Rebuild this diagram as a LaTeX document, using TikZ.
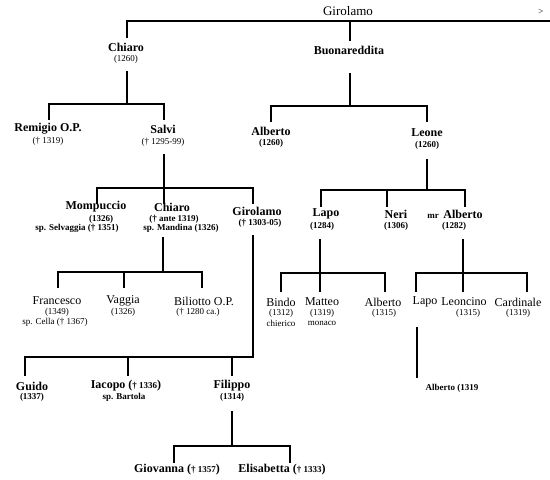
\documentclass[tikz,border=0pt]{standalone}
\usepackage{fontspec}
\setmainfont{Liberation Serif}
\begin{document}
\begin{tikzpicture}[x=1pt,y=-1pt,
  nb/.style={inner sep=0pt, font=\fontsize{12}{13}\selectfont\bfseries},
  nr/.style={inner sep=0pt, font=\fontsize{12}{13}\selectfont},
  sd/.style={inner sep=0pt, font=\fontsize{9}{10}\selectfont},
  sdb/.style={inner sep=0pt, font=\fontsize{9}{10}\selectfont\bfseries},
  ln/.style={line width=1.3pt, line cap=rect, line join=miter}]
\useasboundingbox (0,0) rectangle (550,480);

% ---- texts ----
\node[nr, font=\fontsize{13}{14}\selectfont] (gtop) at (348,11) {Girolamo};
\node[sd] (arr) at (541,12) {>};
\node[nb] (chiaroA) at (126,47) {Chiaro};
\node[sd] (chiaroAd) at (126,59) {(1260)};
\node[nb] (buon) at (349,50) {Buonareddita};

\node[nb] (remigio) at (48,129) {Remigio O.P.};
\node[sd] (remigiod) at (48,141) {(† 1319)};
\node[nb] (salvi) at (163,129) {Salvi};
\node[sd] (salvid) at (163,142) {(† 1295-99)};
\node[nb] (albertoA) at (271,131) {Alberto};
\node[sdb] (albertoAd) at (271,143) {(1260)};
\node[nb] (leone) at (427,133) {Leone};
\node[sdb] (leoned) at (427,145) {(1260)};

\node[nb] (mompuccio) at (96,207) {Mompuccio};
\node[sdb] (mompucciod) at (101,219) {(1326)};
\node[sdb] (mompuccioe) at (77,228) {sp. Selvaggia († 1351)};
\node[nb] (chiaroB) at (172,207) {Chiaro};
\node[sdb] (chiaroBd) at (174,219) {(† ante 1319)};
\node[sdb] (chiaroBe) at (181,228) {sp. Mandina (1326)};
\node[nb] (girolamoB) at (257,211) {Girolamo};
\node[sdb] (girolamoBd) at (260,223) {(† 1303-05)};
\node[nb] (lapoA) at (326,214) {Lapo};
\node[sdb] (lapoAd) at (322,226) {(1284)};
\node[nb] (neri) at (396,214) {Neri};
\node[sdb] (nerid) at (396,226) {(1306)};
\node[sdb] (mr) at (433,216) {mr};
\node[nb] (albertoB) at (463,214) {Alberto};
\node[sdb] (albertoBd) at (454,226) {(1282)};

\node[nr] (francesco) at (57,301) {Francesco};
\node[sd] (francescod) at (57,312) {(1349)};
\node[sd] (francescoe) at (55,322) {sp. Cella († 1367)};
\node[nr] (vaggia) at (123,301) {Vaggia};
\node[sd] (vaggiad) at (123,312) {(1326)};
\node[nr] (biliotto) at (204,301) {Biliotto O.P.};
\node[sd] (biliottod) at (198,312) {(† 1280 ca.)};
\node[nr] (bindo) at (281,302) {Bindo};
\node[sd] (bindod) at (281,313) {(1312)};
\node[sd] (bindoe) at (281,323) {chierico};
\node[nr] (matteo) at (322,302) {Matteo};
\node[sd] (matteod) at (322,313) {(1319)};
\node[sd] (matteoe) at (322,323) {monaco};
\node[nr] (albertoC) at (383,302) {Alberto};
\node[sd] (albertoCd) at (384,313) {(1315)};
\node[nr] (lapoB) at (425,302) {Lapo};
\node[nr] (leoncino) at (464,302) {Leoncino};
\node[sd] (leoncinod) at (468,313) {(1315)};
\node[nr] (cardinale) at (518,302) {Cardinale};
\node[sd] (cardinaled) at (518,313) {(1319)};

\node[nb] (guido) at (32,386) {Guido};
\node[sdb] (guidod) at (32,397) {(1337)};
\node[nb] (iacopo) at (126,386) {Iacopo ({\fontsize{9}{10}\selectfont † 1336})};
\node[sdb] (iacopod) at (124,397) {sp. Bartola};
\node[nb] (filippo) at (232,386) {Filippo};
\node[sdb] (filippod) at (232,397) {(1314)};
\node[sdb] (albertoD) at (452,388) {Alberto (1319};
\node[nb] (giovanna) at (177,470) {Giovanna ({\fontsize{9}{10}\selectfont † 1357})};
\node[nb] (elisabetta) at (282,470) {Elisabetta ({\fontsize{9}{10}\selectfont † 1333})};

% ---- connectors ----
% Girolamo
\coordinate (g1) at (127,37); \coordinate (g2) at (127,21);
\coordinate (g3) at (550,21); \coordinate (g4) at (350,21); \coordinate (g5) at (350,40);
\draw[ln] (g1) -- (g2) -- (g3); \draw[ln] (g4) -- (g5);
% Chiaro (1260)
\coordinate (c0) at (127,72); \coordinate (c1) at (127,104);
\coordinate (c2) at (49,119); \coordinate (c3) at (49,104);
\coordinate (c4) at (164,104); \coordinate (c5) at (164,119);
\draw[ln] (c0) -- (c1); \draw[ln] (c2) -- (c3) -- (c4) -- (c5);
% Buonareddita
\coordinate (b0) at (350,74); \coordinate (b1) at (350,106);
\coordinate (b2) at (271,121); \coordinate (b3) at (271,106);
\coordinate (b4) at (427,106); \coordinate (b5) at (427,121);
\draw[ln] (b0) -- (b1); \draw[ln] (b2) -- (b3) -- (b4) -- (b5);
% Salvi
\coordinate (s0) at (164,155); \coordinate (s1) at (164,188);
\coordinate (s2) at (97,203); \coordinate (s3) at (97,188);
\coordinate (s4) at (253,188); \coordinate (s5) at (253,203);
\coordinate (s6) at (164,203);
\draw[ln] (s0) -- (s6); \draw[ln] (s2) -- (s3) -- (s4) -- (s5);
% Leone
\coordinate (l0) at (427,160); \coordinate (l1) at (427,190);
\coordinate (l2) at (321,206); \coordinate (l3) at (321,190);
\coordinate (l4) at (465,190); \coordinate (l5) at (465,206);
\coordinate (l6) at (387,190); \coordinate (l7) at (387,206);
\draw[ln] (l0) -- (l1); \draw[ln] (l2) -- (l3) -- (l4) -- (l5); \draw[ln] (l6) -- (l7);
% Chiaro (ante 1319)
\coordinate (h0) at (163,238); \coordinate (h1) at (163,272);
\coordinate (h2) at (58,287); \coordinate (h3) at (58,272);
\coordinate (h4) at (202,272); \coordinate (h5) at (202,287);
\coordinate (h6) at (124,272); \coordinate (h7) at (124,287);
\draw[ln] (h0) -- (h1); \draw[ln] (h2) -- (h3) -- (h4) -- (h5); \draw[ln] (h6) -- (h7);
% Lapo (1284)
\coordinate (p0) at (320,240); \coordinate (p1) at (320,273);
\coordinate (p2) at (281,291); \coordinate (p3) at (281,273);
\coordinate (p4) at (385,273); \coordinate (p5) at (385,291);
\coordinate (p6) at (320,291);
\draw[ln] (p0) -- (p6); \draw[ln] (p2) -- (p3) -- (p4) -- (p5);
% mr Alberto
\coordinate (a0) at (463,240); \coordinate (a1) at (463,273);
\coordinate (a2) at (416,291); \coordinate (a3) at (416,273);
\coordinate (a4) at (527,273); \coordinate (a5) at (527,291);
\coordinate (a6) at (463,291);
\draw[ln] (a0) -- (a6); \draw[ln] (a2) -- (a3) -- (a4) -- (a5);
% Lapo -> Alberto (1319
\coordinate (q0) at (417,328); \coordinate (q1) at (417,377);
\draw[ln] (q0) -- (q1);
% Girolamo (1303-05)
\coordinate (r0) at (253,236); \coordinate (r1) at (253,357);
\coordinate (r2) at (25,375); \coordinate (r3) at (25,357);
\coordinate (r4) at (128,357); \coordinate (r5) at (128,375);
\coordinate (r6) at (232,357); \coordinate (r7) at (232,375);
\draw[ln] (r0) -- (r1) -- (r3) -- (r2); \draw[ln] (r4) -- (r5); \draw[ln] (r6) -- (r7);
% Filippo
\coordinate (f0) at (232,412); \coordinate (f1) at (232,446);
\coordinate (f2) at (174,462); \coordinate (f3) at (174,446);
\coordinate (f4) at (290,446); \coordinate (f5) at (290,462);
\draw[ln] (f0) -- (f1); \draw[ln] (f2) -- (f3) -- (f4) -- (f5);
\end{tikzpicture}
\end{document}
